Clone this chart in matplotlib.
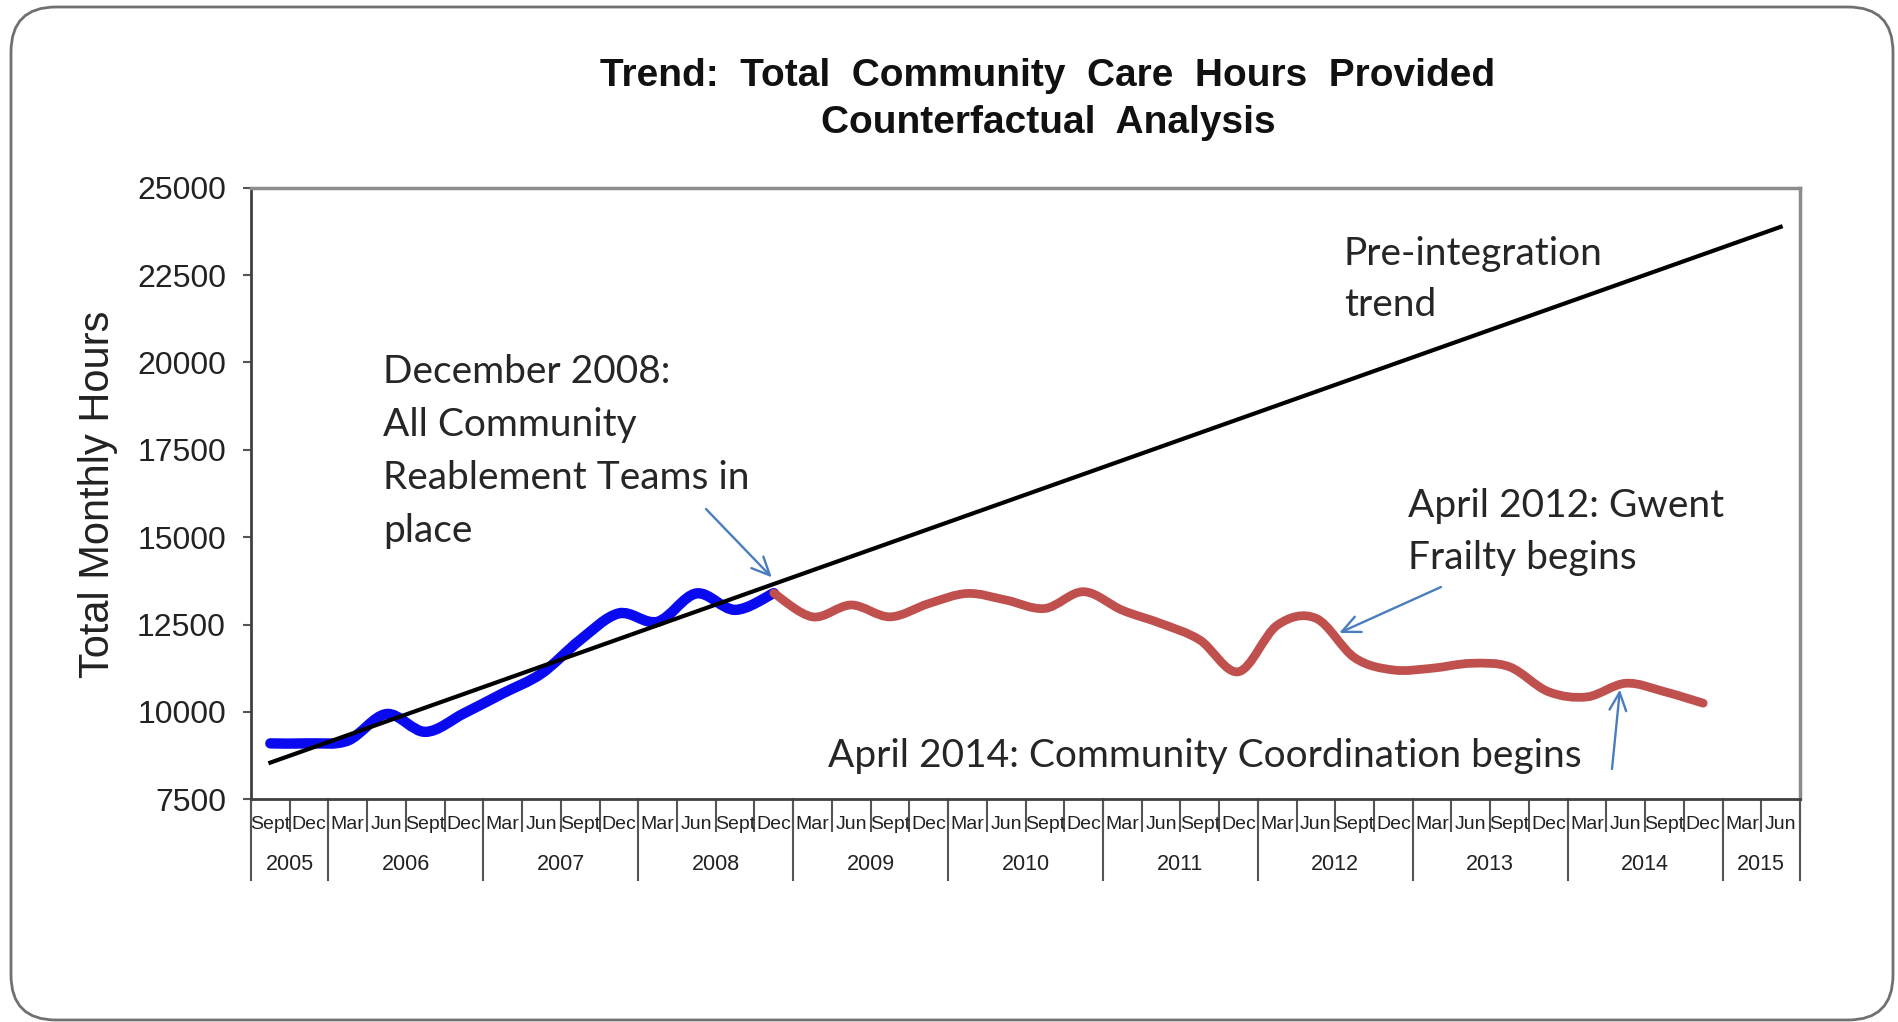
import numpy as np
import matplotlib
matplotlib.use("Agg")
import matplotlib.pyplot as plt
from matplotlib.path import Path
from matplotlib.patches import PathPatch, FancyBboxPatch

plt.rcParams['font.family'] = ['Liberation Sans', 'DejaVu Sans']

# quarterly category axis, Sept 2005 .. Jun 2015
quarter_names = ["Sept", "Dec"] + ["Mar", "Jun", "Sept", "Dec"] * 9 + ["Mar", "Jun"]
years = ["2005", "2006", "2007", "2008", "2009", "2010", "2011", "2012", "2013", "2014", "2015"]
quarters_per_year = [2, 4, 4, 4, 4, 4, 4, 4, 4, 4, 2]

# before integration (Sept 2005 - Dec 2008)
pre_idx = list(range(0, 14))
pre_hours = [9100, 9100, 9180, 9940, 9430, 9960, 10530, 11100,
             12060, 12820, 12580, 13390, 12920, 13400]

# after integration (Dec 2008 - Dec 2014)
post_idx = list(range(13, 38))
post_hours = [13400, 12720, 13060, 12720, 13100, 13390, 13200, 12960,
              13440, 12910, 12530, 12060, 11150, 12480, 12680, 11550,
              11200, 11250, 11390, 11290, 10580, 10430, 10820, 10580, 10250]

# pre-integration linear trend
trend_idx = [0, 39]
trend_hours = [8550, 23880]


def smooth_path(xs, ys):
    # spreadsheet-style smoothed line: cubic bezier through every point
    pts = np.column_stack([xs, ys]).astype(float)
    n = len(pts)
    verts = [pts[0]]
    codes = [Path.MOVETO]
    for k in range(n - 1):
        p0 = pts[max(k - 1, 0)]
        p1 = pts[k]
        p2 = pts[k + 1]
        p3 = pts[min(k + 2, n - 1)]
        verts += [p1 + (p2 - p0) / 6, p2 - (p3 - p1) / 6, p2]
        codes += [Path.CURVE4] * 3
    return Path(verts, codes)


W, H = 1899, 1022
fig = plt.figure(figsize=(W / 100, H / 100), dpi=100)

# rounded slide frame
bg = fig.add_axes([0, 0, 1, 1], zorder=0)
bg.set_xlim(0, W)
bg.set_ylim(H, 0)
bg.axis("off")
bg.add_patch(FancyBboxPatch((11, 7), 1882, 1013,
                            boxstyle="round,pad=0,rounding_size=45",
                            facecolor="white", edgecolor="#707070", lw=2))

ax = fig.add_axes([251 / W, 1 - 799.3 / H, 1549 / W, 611.6 / H], zorder=2)
ax.set_facecolor("none")

pre_line = PathPatch(smooth_path(pre_idx, pre_hours), fill=False,
                     edgecolor="#0a0af0", lw=7.5, capstyle="round", joinstyle="round", zorder=3)
post_line = PathPatch(smooth_path(post_idx, post_hours), fill=False,
                      edgecolor="#c0504d", lw=6.3, capstyle="round", joinstyle="round", zorder=3)
ax.add_patch(pre_line)
ax.add_patch(post_line)
ax.plot(trend_idx, trend_hours, color="black", lw=3, zorder=4)

ax.set_xlim(-0.5, 39.5)
ax.set_ylim(7500, 25000)
ax.set_yticks(np.arange(7500, 25001, 2500))
ax.tick_params(axis="y", labelsize=23, length=6, width=1.5, pad=12,
               color="#555555", labelcolor="#222222")

# two-level category axis
ax.set_xticks(np.arange(-0.5, 40, 1))
ax.set_xticklabels([])
ax.tick_params(axis="x", length=24, width=1.5, color="#555555")
xt = ax.get_xaxis_transform()
for i, name in enumerate(quarter_names):
    ax.text(i, -0.042, name, transform=xt, ha="center", va="center",
            fontsize=14, color="#222222", clip_on=False)

edges = np.concatenate([[0], np.cumsum(quarters_per_year)]) - 0.5
for e in edges:
    ax.plot([e, e], [0, -0.132], transform=xt, color="#555555", lw=1.5, clip_on=False)
for k, yr in enumerate(years):
    mid = (edges[k] + edges[k + 1]) / 2
    ax.text(mid, -0.107, yr, transform=xt, ha="center", va="center",
            fontsize=15.5, color="#222222", clip_on=False)

for side in ["left", "bottom"]:
    ax.spines[side].set_color("#404040")
    ax.spines[side].set_linewidth(2)
for side in ["top", "right"]:
    ax.spines[side].set_color("#8c8c8c")
    ax.spines[side].set_linewidth(2.5)

fig.text(98 / W, 1 - 494 / H, "Total Monthly Hours", rotation=90,
         ha="center", va="center", fontsize=30, color="#222222")

fig.text(1048 / W, 1 - 86 / H, "Trend:  Total  Community  Care  Hours  Provided",
         ha="center", va="baseline", fontsize=28, fontweight="bold", color="#111111")
fig.text(1048 / W, 1 - 133 / H, "Counterfactual  Analysis",
         ha="center", va="baseline", fontsize=28, fontweight="bold", color="#111111")

# annotation overlay in pixel units
ov = fig.add_axes([0, 0, 1, 1], zorder=5)
ov.set_xlim(0, W)
ov.set_ylim(H, 0)
ov.axis("off")

notes = [
    (["December 2008:", "All Community", "Reablement Teams in", "place"], 383, 383, 53),
    (["Pre-integration", "trend"], 1344, 265, 51),
    (["April 2012: Gwent", "Frailty begins"], 1408, 517, 52),
    (["April 2014: Community Coordination begins"], 828, 767, 0),
]
for lines, x0, y0, step in notes:
    for j, line in enumerate(lines):
        ov.text(x0, y0 + j * step, line, ha="left", va="baseline",
                fontsize=28, family="Lato", color="#262626")

arrow_style = dict(arrowstyle="->,head_length=1.3,head_width=0.6",
                   color="#4a7dbf", lw=1.7, shrinkA=0, shrinkB=0)
ax.annotate("", xy=(12.95, 13850), xytext=(706, 509), textcoords=ov.transData,
            arrowprops=arrow_style, annotation_clip=False)
ax.annotate("", xy=(27.6, 12260), xytext=(1441, 587), textcoords=ov.transData,
            arrowprops=arrow_style, annotation_clip=False)
ax.annotate("", xy=(34.85, 10640), xytext=(1612, 769), textcoords=ov.transData,
            arrowprops=arrow_style, annotation_clip=False)

fig.savefig("out.png", dpi=100)
